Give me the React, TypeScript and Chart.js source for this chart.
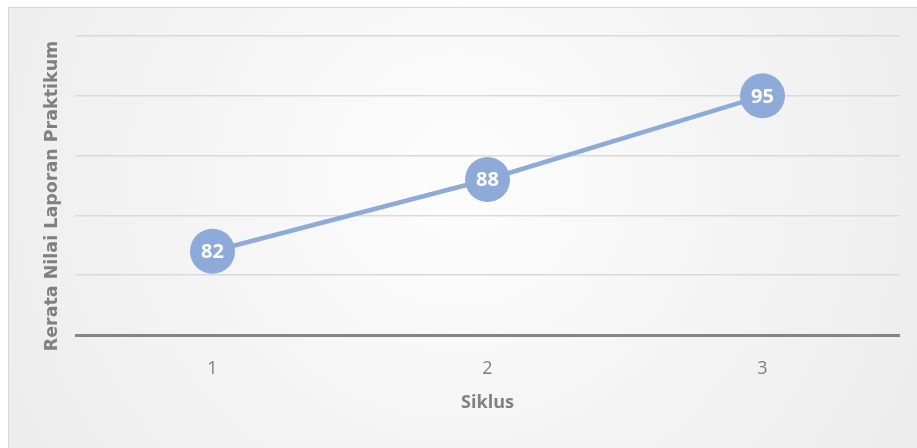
import React, { useEffect, useRef } from "react";
import { Chart, registerables } from "chart.js";

Chart.register(...registerables);

const categories = ["1", "2", "3"];
const values = [82, 88, 95];
const yTitle = "Rerata Nilai Laporan Praktikum";
const xTitle = "Siklus";
const yMin = 75;
const yMax = 100;
const yStep = 5;

export default function App() {
  const ref = useRef<HTMLCanvasElement | null>(null);
  useEffect(() => {
    const canvas = ref.current!;
    const bgPlugin = {
      id: "bg",
      beforeDraw(chart: any) {
        const ctx = chart.ctx;
        const w = chart.width, h = chart.height;
        ctx.save();
        ctx.fillStyle = "#ffffff";
        ctx.fillRect(0, 0, w, h);
        const g = ctx.createRadialGradient(w / 2, h * 0.4, 40, w / 2, h * 0.4, w * 0.6);
        g.addColorStop(0, "#fcfcfc");
        g.addColorStop(1, "#ebebeb");
        ctx.fillStyle = g;
        ctx.fillRect(8, 7, w - 8, h - 7);
        ctx.strokeStyle = "#d6d6d6";
        ctx.lineWidth = 1;
        ctx.beginPath();
        ctx.moveTo(8, 7.5);
        ctx.lineTo(w, 7.5);
        ctx.moveTo(8.5, 7);
        ctx.lineTo(8.5, h);
        ctx.stroke();
        ctx.restore();
      },
    };
    const labelPlugin = {
      id: "labels",
      afterDatasetsDraw(chart: any) {
        const ctx = chart.ctx;
        const meta = chart.getDatasetMeta(0);
        ctx.save();
        ctx.fillStyle = "#ffffff";
        ctx.font = "bold 20px 'Open Sans'";
        ctx.textAlign = "center";
        ctx.textBaseline = "middle";
        meta.data.forEach((pt: any, i: number) => {
          ctx.fillText(String(values[i]), pt.x, pt.y + 1);
        });
        const area = chart.chartArea;
        ctx.fillStyle = "#808080";
        ctx.font = "bold 18px 'Open Sans'";
        ctx.fillText(xTitle, (area.left + area.right) / 2, 403);
        ctx.translate(52, 196);
        ctx.rotate(-Math.PI / 2);
        ctx.font = "bold 17.5px 'DejaVu Sans'";
        ctx.fillText(yTitle, 0, 0);
        ctx.restore();
      },
    };
    const chart = new Chart(canvas, {
      type: "line",
      data: {
        labels: categories,
        datasets: [
          {
            data: values,
            borderColor: "#8eaad8",
            backgroundColor: "#8eaad8",
            borderWidth: 4.5,
            pointRadius: 22.5,
            pointBorderWidth: 0,
            pointBackgroundColor: "#8eaad8",
            tension: 0,
          },
        ],
      },
      options: {
        responsive: false,
        animation: false,
        layout: { autoPadding: false, padding: { top: 36, right: 17, left: 0, bottom: 0 } },
        plugins: { legend: { display: false }, tooltip: { enabled: false } },
        scales: {
          x: {
            offset: true,
            grid: { display: false },
            border: { display: false },
            ticks: {
              color: "#808080",
              font: { family: "'Open Sans'", size: 18 },
              padding: 15,
            },
            afterFit(scale: any) {
              scale.height = 113;
            },
          },
          y: {
            min: yMin,
            max: yMax,
            ticks: { display: false, stepSize: yStep },
            border: { display: false },
            grid: {
              drawTicks: false,
              color: (c: any) => (c.tick && c.tick.value === yMin ? "#858585" : "#d9d9d9"),
              lineWidth: (c: any) => (c.tick && c.tick.value === yMin ? 3 : 1.5),
            },
            afterFit(scale: any) {
              scale.width = 75;
            },
          },
        },
      },
      plugins: [bgPlugin, labelPlugin],
    });
    return () => chart.destroy();
  }, []);
  return (
    <div style={{ position: "fixed", left: 0, top: 0, width: 917, height: 448 }}>
      <canvas ref={ref} width={917} height={448} />
    </div>
  );
}
